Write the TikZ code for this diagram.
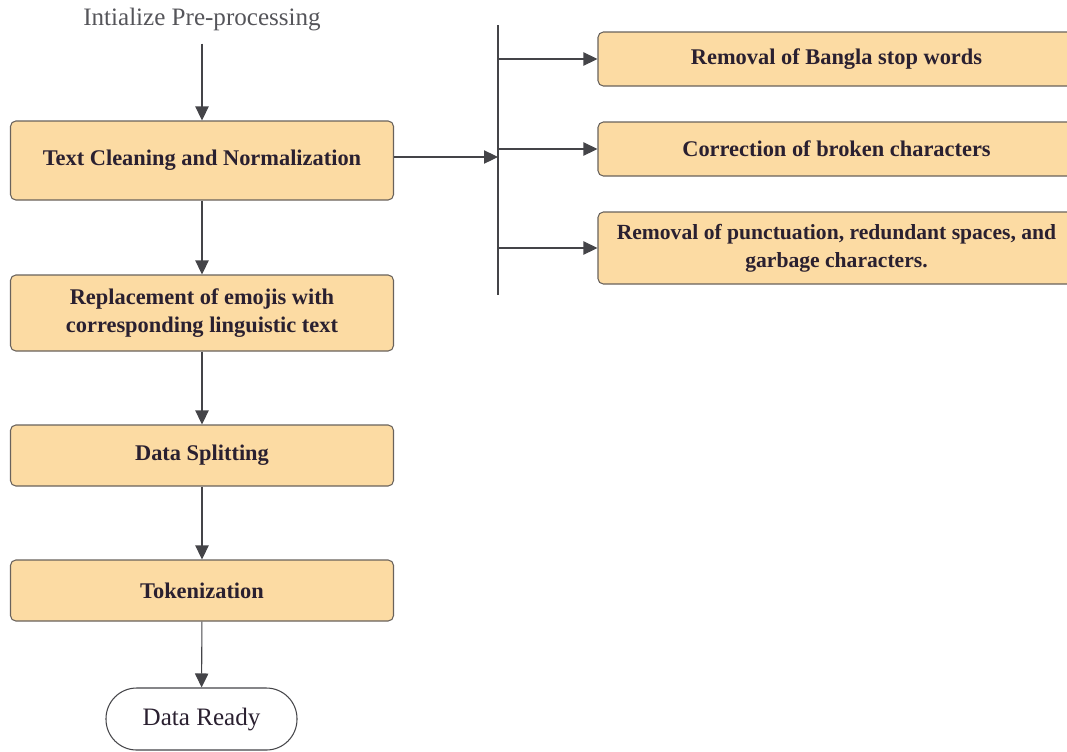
\documentclass[tikz,border=0pt]{standalone}
\usepackage{fontspec}
\setmainfont{Liberation Serif}
\usepackage{xcolor}
\usepackage{tikz}
\usetikzlibrary{positioning, arrows.meta}

\definecolor{boxfill}{RGB}{252,219,163}
\definecolor{boxline}{RGB}{105,98,92}
\definecolor{wire}{RGB}{68,68,72}
\definecolor{ink}{RGB}{42,32,48}

\begin{document}
\begin{tikzpicture}[x=0.75pt, y=-0.75pt,
    >={Triangle[length=10.5pt, width=10pt]},
    stage/.style={draw=boxline, line width=0.8pt, fill=boxfill, rounded corners=4pt, align=center, text=ink,
                  font=\fontsize{16.8}{20.5}\selectfont\bfseries, minimum width=287.25pt, inner sep=0pt},
    sub/.style={stage, minimum width=357.75pt},
    flow/.style={->, draw=wire, line width=0.8pt}]
      \useasboundingbox (0,0) rectangle (1067,751);
      \clip (0,0) rectangle (1067,751);

      \node[text={rgb,255:red,85;green,85;blue,90}, font=\fontsize{18.8}{22}\selectfont, inner ysep=9pt] (init) at (202, 20) {Intialize Pre-processing};

      \node[stage, minimum height=59.25pt]  (clean)  at (202, 160.5)   {Text Cleaning and Normalization};
      \node[stage, minimum height=57pt]     (emoji)  at (202, 313)     {Replacement of emojis with \\ corresponding linguistic text};
      \node[stage, minimum height=45.75pt]  (split)  at (202, 455.5)   {Data Splitting};
      \node[stage, minimum height=45.75pt]  (token)  at (202, 590.5)   {Tokenization};

      \node[draw=wire, line width=0.8pt, rounded corners=23pt, minimum width=143.25pt, minimum height=46.5pt, text=ink,
            font=\fontsize{18.8}{22}\selectfont] (ready) at (201.5, 719) {Data Ready};

      \node[sub, minimum height=40.5pt]  (stop)   at (836.5, 59)   {Removal of Bangla stop words};
      \node[sub, minimum height=40.5pt]  (broken) at (836.5, 149)  {Correction of broken characters};
      \node[sub, minimum height=54pt, font=\fontsize{16.2}{21}\selectfont\bfseries]
                                         (punct)  at (836.5, 248)  {Removal of punctuation, redundant spaces, and \\ garbage characters.};

      \coordinate (bartop) at (498, 25);
      \coordinate (barbot) at (498, 295);
      \coordinate (hub)    at (498, 157);

      \draw[flow] (init.south) -- (clean.north);
      \draw[flow] (clean) -- (emoji);
      \draw[flow] (emoji) -- (split);
      \draw[flow] (split) -- (token);
      \draw[flow] (token) -- (ready);

      \draw[draw=wire, line width=0.8pt] (bartop) -- (barbot);
      \draw[flow] (clean.east |- hub) -- (hub);

      \draw[flow] (stop.west -| hub) -- (stop.west);
      \draw[flow] (broken.west -| hub) -- (broken.west);
      \draw[flow] (punct.west -| hub) -- (punct.west);
    \end{tikzpicture}
\end{document}
